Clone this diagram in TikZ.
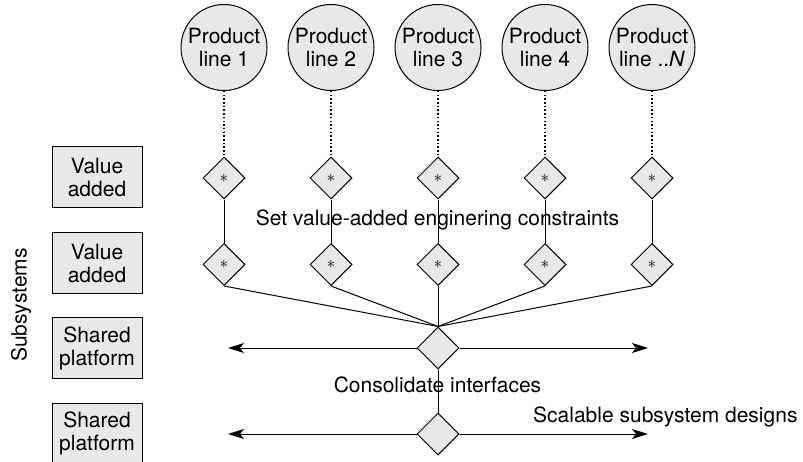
\documentclass[tikz,border=0pt]{standalone}
\usepackage{fontspec}
\setmainfont{TeX Gyre Heros}
\usepackage{tikz}
\usetikzlibrary{shapes.geometric,arrows.meta}

\begin{document}
\begin{tikzpicture}[x=1pt, y=-1pt,
        every node/.style={font=\fontsize{21}{23}\selectfont},
        pline/.style={circle, draw, line width=1pt, fill=black!9, minimum size=86pt, inner sep=0pt, align=center},
        tier/.style={draw, line width=1pt, fill=black!9, minimum width=90pt, minimum height=61pt, inner sep=0pt, align=center},
        gate/.style={diamond, draw, line width=1pt, fill=black!9, minimum size=42pt, inner sep=0pt},
        link/.style={line width=1pt},
        feed/.style={line width=1.5pt, dash pattern=on 1.5pt off 2.2pt},
        spread/.style={line width=1pt, -{Stealth[length=16pt, width=10pt, inset=4pt]}}]
        \useasboundingbox (0,0) rectangle (803,462);

        \coordinate (a1) at (228,348);
        \coordinate (a2) at (648,348);
        \coordinate (a3) at (228,434);
        \coordinate (a4) at (648,434);

        \node[pline] (p1) at (224,47.5) {Product\\line 1};
        \node[pline] (p2) at (331,47.5) {Product\\line 2};
        \node[pline] (p3) at (438,47.5) {Product\\line 3};
        \node[pline] (p4) at (545,47.5) {Product\\line 4};
        \node[pline] (p5) at (652,47.5) {Product\\line ..\textit{N}};

        \node[gate] (u1) at (224,178) {\fontsize{17}{17}\selectfont$\ast$};
        \node[gate] (u2) at (331,178) {\fontsize{17}{17}\selectfont$\ast$};
        \node[gate] (u3) at (438,178) {\fontsize{17}{17}\selectfont$\ast$};
        \node[gate] (u4) at (545,178) {\fontsize{17}{17}\selectfont$\ast$};
        \node[gate] (u5) at (652,178) {\fontsize{17}{17}\selectfont$\ast$};

        \node[gate] (l1) at (224,264.5) {\fontsize{17}{17}\selectfont$\ast$};
        \node[gate] (l2) at (331,264.5) {\fontsize{17}{17}\selectfont$\ast$};
        \node[gate] (l3) at (438,264.5) {\fontsize{17}{17}\selectfont$\ast$};
        \node[gate] (l4) at (545,264.5) {\fontsize{17}{17}\selectfont$\ast$};
        \node[gate] (l5) at (652,264.5) {\fontsize{17}{17}\selectfont$\ast$};

        \node[gate] (c1) at (438,348) {};
        \node[gate] (c2) at (438,434) {};

        \node[tier] (b1) at (97,177.5) {Value\\added};
        \node[tier] (b2) at (97,263.5) {Value\\added};
        \node[tier] (b3) at (97,348) {Shared\\platform};
        \node[tier] (b4) at (97,433.5) {Shared\\platform};

        \node[rotate=90] (subs) at (21,305) {Subsystems};
        \node[anchor=base] (setv) at (437.5,226) {Set value-added enginering constraints};
        \node[anchor=base] (cons) at (437.5,392) {Consolidate interfaces};
        \node[anchor=base west, inner sep=0pt] (scal) at (533,422) {Scalable subsystem designs};

        \draw[feed] (p1.south) -- (u1.north);
        \draw[feed] (p2.south) -- (u2.north);
        \draw[feed] (p3.south) -- (u3.north);
        \draw[feed] (p4.south) -- (u4.north);
        \draw[feed] (p5.south) -- (u5.north);

        \draw[link] (u1) -- (l1);
        \draw[link] (u2) -- (l2);
        \draw[link] (u3) -- (l3);
        \draw[link] (u4) -- (l4);
        \draw[link] (u5) -- (l5);

        \draw[link] (l1.south) -- (c1.north);
        \draw[link] (l2.south) -- (c1.north);
        \draw[link] (l3.south) -- (c1.north);
        \draw[link] (l4.south) -- (c1.north);
        \draw[link] (l5.south) -- (c1.north);
        \draw[link] (c1) -- (c2);

        \draw[spread] (c1.west) -- (a1);
        \draw[spread] (c1.east) -- (a2);
        \draw[spread] (c2.west) -- (a3);
        \draw[spread] (c2.east) -- (a4);
    \end{tikzpicture}
\end{document}
